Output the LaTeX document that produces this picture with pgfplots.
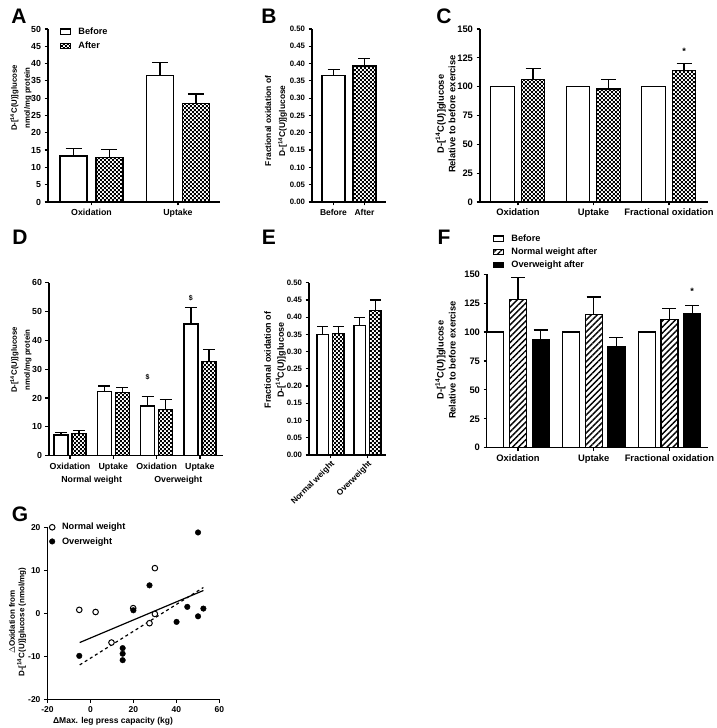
\documentclass[border=0pt]{standalone}
\usepackage{fontspec}
\setmainfont{Liberation Sans}
\usepackage{pgfplots}
\pgfplotsset{compat=1.18}
\usetikzlibrary{patterns,patterns.meta}
\pgfdeclarepatternformonly{mychecker}{\pgfpointorigin}{\pgfqpoint{4.4pt}{4.4pt}}{\pgfqpoint{4.4pt}{4.4pt}}{%
  \pgfpathrectangle{\pgfpointorigin}{\pgfqpoint{2.2pt}{2.2pt}}%
  \pgfpathrectangle{\pgfqpoint{2.2pt}{2.2pt}}{\pgfqpoint{2.2pt}{2.2pt}}%
  \pgfusepath{fill}}
\newcommand\tl{\fontsize{8.8}{10}\selectfont\bfseries}
\newcommand\tlb{\fontsize{9.4}{10}\selectfont\bfseries}
\newcommand\tls{\fontsize{7.8}{9}\selectfont\bfseries}
\newcommand\lgf{\fontsize{9.2}{10}\selectfont\bfseries}
\newcommand\pl{\fontsize{21}{21}\selectfont\bfseries}
\newcommand\at[2]{\fontsize{#1}{#2}\selectfont\bfseries}
\pgfplotsset{
  gp/.style={
    scale only axis, anchor=south west,
    axis x line*=bottom, axis y line*=left,
    axis line style={line width=1.3pt, black},
    tick align=outside, major tick length=3.5pt,
    tick style={line width=1.2pt, black},
    tick label style={font=\tl},
    /pgf/number format/assume math mode=true,
    clip=false,
    legend style={draw=none, fill=none, font=\lgf, inner sep=0pt, row sep=6pt,
      nodes={inner sep=0pt},
      /tikz/every odd column/.append style={column sep=7pt}},
    legend cell align=left,
  },
  boxleg/.style={legend image code/.code={\draw[##1, line width=1.2pt] (0pt,-2.6pt) rectangle (10pt,2.6pt);}},
  wbar/.style={ybar, bar width=#1, fill=white, draw=black, line width=1.3pt},
  cbar/.style={ybar, bar width=#1, pattern=mychecker, pattern color=black, draw=black, line width=1.3pt},
  hbar/.style={ybar, bar width=#1, pattern={Lines[angle=45,distance=4.2pt,line width=1.4pt]}, pattern color=black, draw=black, line width=1.3pt},
  kbar/.style={ybar, bar width=#1, fill=black, draw=black, line width=1.3pt},
  eb/.style={error bars/y dir=plus, error bars/y explicit,
    error bars/error mark=-,
    error bars/error bar style={line width=1.2pt, black},
    error bars/error mark options={rotate=90, line width=1.2pt, black, mark size=#1}},
}
\begin{document}
\begin{tikzpicture}
\path[use as bounding box] (0,0) rectangle (716pt,728pt);

% ---------- A ----------
\begin{axis}[gp, boxleg, at={(48pt,526pt)}, width=172pt, height=173pt,
  xmin=-0.503, xmax=1.486, ymin=0, ymax=50, ytick={0,5,...,50},
  xtick={0,1}, xticklabels={Oxidation,Uptake},
  legend style={at={(axis description cs:0.07,1.01)}, anchor=north west}]
\addplot[wbar=0.312, eb=8pt] coordinates {(-0.208,13.3) +- (0,2.1) (0.792,36.6) +- (0,3.8)};
\addplot[cbar=0.312, eb=8pt] coordinates {(0.208,12.8) +- (0,2.3) (1.208,28.4) +- (0,2.8)};
\legend{Before,After}
\end{axis}

% ---------- B ----------
\begin{axis}[gp, at={(312pt,526pt)}, width=74pt, height=173pt,
  xmin=-0.694, xmax=1.694, ymin=0, ymax=0.5, ytick={0,0.05,...,0.51},
  yticklabel style={font=\tls, /pgf/number format/.cd, fixed, fixed zerofill, precision=2},
  xticklabel style={font=\fontsize{8.5}{10}\selectfont\bfseries},
  xtick={0,1}, xticklabels={Before,After}]
\addplot[wbar=0.742, eb=6pt] coordinates {(0,0.365) +- (0,0.018)};
\addplot[cbar=0.742, eb=6pt] coordinates {(1,0.393) +- (0,0.022)};
\end{axis}

% ---------- C ----------
\begin{axis}[gp, at={(480pt,526pt)}, width=228pt, height=173pt,
  tick label style={font=\tlb},
  xmin=-0.503, xmax=2.517, ymin=0, ymax=150, ytick={0,25,...,150},
  xtick={0,1,2}, xticklabels={Oxidation,Uptake,Fractional oxidation}]
\addplot[wbar=0.311] coordinates {(-0.205,100) (0.795,100) (1.795,100)};
\addplot[cbar=0.311, eb=7.5pt] coordinates {(0.2,106.4) +- (0,9.6) (1.2,98.0) +- (0,8.3) (2.2,113.8) +- (0,6.2)};
\node[font=\lgf] at (axis cs:2.2,131) {*};
\end{axis}

% ---------- D ----------
\begin{axis}[gp, at={(49pt,272.3pt)}, width=174pt, height=173pt,
  xmin=-0.485, xmax=3.533, ymin=0, ymax=60, ytick={0,10,...,60},
  xtick={0,1,2,3}, xticklabels={Oxidation,Uptake,Oxidation,Uptake}]
\addplot[wbar=0.323, eb=6pt] coordinates {(-0.208,7.2) +- (0,0.8) (0.792,22.3) +- (0,1.9) (1.792,17.2) +- (0,3.2) (2.792,45.7) +- (0,5.8)};
\addplot[cbar=0.323, eb=6pt] coordinates {(0.208,7.7) +- (0,0.9) (1.208,22.0) +- (0,1.7) (2.208,16.0) +- (0,3.5) (3.208,32.6) +- (0,4.2)};
\node[font=\fontsize{7}{8}\selectfont\bfseries] at (axis cs:1.792,27.4) {\$};
\node[font=\fontsize{7}{8}\selectfont\bfseries] at (axis cs:2.792,54.5) {\$};
\node[font=\tl] at (axis cs:0.5,0) [yshift=-24.3pt] {Normal weight};
\node[font=\tl] at (axis cs:2.5,0) [yshift=-24.3pt] {Overweight};
\end{axis}

% ---------- E ----------
\begin{axis}[gp, at={(309pt,273pt)}, width=77pt, height=172.3pt,
  xmin=-0.581, xmax=1.5, ymin=0, ymax=0.5, ytick={0,0.05,...,0.51},
  yticklabel style={font=\tls, /pgf/number format/.cd, fixed, fixed zerofill, precision=2},
  xtick={0,1}, xticklabels={Normal weight,Overweight},
  xticklabel style={font=\fontsize{8.3}{10}\selectfont\bfseries, rotate=45, anchor=north east, inner sep=1pt}]
\addplot[wbar=0.311, eb=5.5pt] coordinates {(-0.21,0.350) +- (0,0.024) (0.79,0.375) +- (0,0.025)};
\addplot[cbar=0.311, eb=5.5pt] coordinates {(0.21,0.352) +- (0,0.022) (1.21,0.420) +- (0,0.030)};
\end{axis}

% ---------- F ----------
\begin{axis}[gp, boxleg, at={(487pt,280.3pt)}, width=221pt, height=173.4pt,
  tick label style={font=\tlb},
  xmin=-0.41, xmax=2.51, ymin=0, ymax=150, ytick={0,25,...,150},
  xtick={0,1,2}, xticklabels={Oxidation,Uptake,Fractional oxidation},
  legend style={at={(axis description cs:0.027,1.23)}, anchor=north west, row sep=5pt}]
\addplot[wbar=0.225] coordinates {(-0.3,100) (0.7,100) (1.7,100)};
\addplot[hbar=0.225, eb=7pt] coordinates {(0,128.4) +- (0,19.0) (1,115.1) +- (0,15.3) (2,110.7) +- (0,9.9)};
\addplot[kbar=0.225, eb=7pt] coordinates {(0.3,93.2) +- (0,8.6) (1.3,87.4) +- (0,8.1) (2.3,115.7) +- (0,7.5)};
\node[font=\lgf] at (axis cs:2.3,135) {*};
\legend{Before,Normal weight after,Overweight after}
\end{axis}

% ---------- G ----------
\begin{axis}[gp, at={(47.5pt,28.7pt)}, width=171.8pt, height=172pt,
  tick label style={font=\fontsize{8.5}{10}\selectfont\bfseries},
  xmin=-20, xmax=60, ymin=-20, ymax=20, xtick={-20,0,...,60}, ytick={-20,-10,...,20},
  legend style={at={(axis description cs:0.01,1.025)}, anchor=north west, row sep=6pt}]
\addplot[only marks, mark=*, mark size=2.8pt, mark options={fill=white, draw=black, line width=1pt}] coordinates {
(-5.2,0.8) (2.4,0.3) (9.8,-6.8) (19.9,1.2) (27.5,-2.3) (30.0,10.5) (30.0,-0.15)};
\addplot[only marks, mark=*, mark size=2.8pt, mark options={fill=black, draw=black}] coordinates {
(-5.2,-9.9) (15,-8.1) (15,-9.4) (15,-10.9) (20,0.7) (27.5,6.5) (40.1,-2.0) (45.1,1.5) (50.1,18.8) (50.1,-0.7) (52.6,1.1)};
\addplot[black, line width=1.2pt] coordinates {(-5,-6.8) (52.6,5.3)};
\addplot[black, dashed, line width=1.2pt] coordinates {(-5,-12) (52.6,6.0)};
\legend{Normal weight,Overweight}
\end{axis}

% ---------- axis titles ----------
\node[rotate=90, align=center, font=\at{7.8}{13}] at (21pt,630pt) {D-[\textsuperscript{14}C(U)]glucose\\nmol/mg protein};
\node[rotate=90, align=center, font=\at{8.4}{14}] at (276pt,607pt) {Fractional oxidation of\\D-[\textsuperscript{14}C(U)]glucose};
\node[rotate=90, align=center, font=\at{9.3}{11.5}] at (445.5pt,614pt) {D-[\textsuperscript{14}C(U)]glucose\\Relative to before exercise};
\node[rotate=90, align=center, font=\at{7.8}{13}] at (21pt,368pt) {D-[\textsuperscript{14}C(U)]glucose\\nmol/mg protein};
\node[rotate=90, align=center, font=\at{9}{13}] at (275pt,368pt) {Fractional oxidation of\\D-[\textsuperscript{14}C(U)]glucose};
\node[rotate=90, align=center, font=\at{9.3}{12}] at (445.5pt,368pt) {D-[\textsuperscript{14}C(U)]glucose\\Relative to before exercise};
\node[rotate=90, align=center, font=\at{8}{9.5}] at (17.5pt,106pt) {$\Delta$Oxidation from\\D-[\textsuperscript{14}C(U)]glucose (nmol/mg)};
\node[font=\at{8.5}{10}] at (113pt,7pt) {ΔMax. leg press capacity (kg)};

% ---------- panel letters ----------
\node[font=\pl] at (19pt,712pt) {A};
\node[font=\pl] at (269pt,712pt) {B};
\node[font=\pl] at (444pt,712pt) {C};
\node[font=\pl] at (20pt,491pt) {D};
\node[font=\pl] at (269pt,491pt) {E};
\node[font=\pl] at (444pt,491pt) {F};
\node[font=\pl] at (20pt,214pt) {G};
\end{tikzpicture}
\end{document}
